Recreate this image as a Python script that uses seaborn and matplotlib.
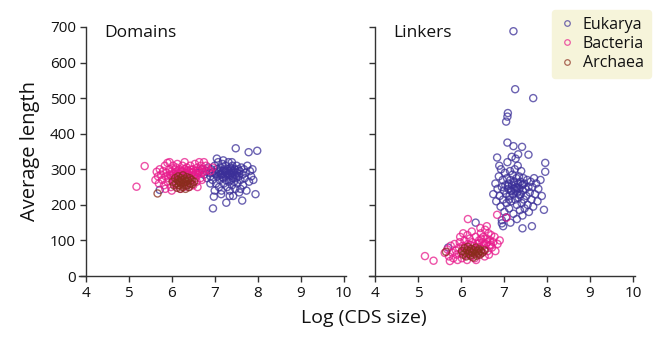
import numpy as np
import pandas as pd
import matplotlib
matplotlib.use("Agg")
import matplotlib.pyplot as plt
from matplotlib.lines import Line2D
import seaborn as sns

# Domains panel
dom_euk_x = [5.72, 6.35, 6.62, 6.70, 6.75, 6.80, 6.82, 6.85, 6.88, 6.90, 6.92, 6.95, 6.96, 6.98, 7.00, 7.02,
             7.03, 7.05, 7.06, 7.08, 7.10, 7.10, 7.12, 7.13, 7.15, 7.16, 7.18, 7.19, 7.20, 7.21, 7.22, 7.24,
             7.25, 7.26, 7.27, 7.28, 7.29, 7.30, 7.31, 7.32, 7.33, 7.34, 7.35, 7.36, 7.37, 7.38, 7.39, 7.40,
             7.41, 7.42, 7.43, 7.44, 7.45, 7.46, 7.47, 7.48, 7.49, 7.50, 7.51, 7.52, 7.53, 7.55, 7.56, 7.57,
             7.58, 7.60, 7.62, 7.64, 7.65, 7.66, 7.68, 7.70, 7.72, 7.74, 7.76, 7.79, 7.80, 7.82, 7.85, 7.88,
             7.95, 7.99, 7.90, 7.05, 7.20, 7.40, 6.90, 7.15, 7.35, 7.60, 7.00,
             7.08, 7.14, 7.23, 7.30, 7.38, 7.45, 7.52, 7.18, 7.27, 7.34, 7.42, 7.11, 7.25, 7.48, 6.95, 7.02]
dom_euk_y = [242, 255, 290, 300, 285, 295, 275, 305, 290, 280, 300, 270, 190, 223, 310, 290,
             260, 300, 280, 320, 295, 250, 270, 305, 285, 240, 315, 295, 275, 260, 300, 285,
             310, 270, 206, 290, 250, 300, 280, 320, 265, 295, 240, 285, 305, 270, 290, 255,
             310, 280, 225, 295, 265, 300, 285, 245, 359, 275, 310, 290, 260, 300, 280, 235,
             295, 270, 305, 212, 285, 255, 300, 275, 290, 240, 310, 348, 265, 295, 280, 300,
             230, 352, 270, 330, 325, 320, 260, 230, 225, 245, 240,
             292, 288, 295, 285, 298, 290, 282, 278, 296, 288, 276, 283, 293, 299, 292, 286]

dom_bac_x = [5.18, 5.37, 5.62, 5.65, 5.68, 5.70, 5.72, 5.75, 5.78, 5.80, 5.82, 5.84, 5.86, 5.88, 5.90, 5.90,
             5.92, 5.94, 5.96, 5.98, 6.00, 6.02, 6.03, 6.05, 6.06, 6.08, 6.10, 6.12, 6.13, 6.15, 6.16, 6.18,
             6.20, 6.22, 6.24, 6.25, 6.27, 6.28, 6.30, 6.32, 6.33, 6.35, 6.37, 6.38, 6.40, 6.42, 6.43, 6.45,
             6.47, 6.48, 6.50, 6.52, 6.54, 6.55, 6.57, 6.58, 6.60, 6.62, 6.64, 6.65, 6.67, 6.68, 6.70, 6.72,
             6.75, 6.78, 6.80, 6.85, 6.90, 6.95, 6.50, 6.20, 6.00, 5.85, 6.40, 6.60, 6.10, 5.95, 6.30, 6.70,
             5.98, 6.04, 6.11, 6.19, 6.26, 6.34, 6.41, 6.49, 6.56, 6.63, 6.44, 6.36]
dom_bac_y = [251, 309, 270, 293, 280, 260, 300, 285, 270, 295, 255, 310, 280, 290, 318, 265,
             275, 300, 285, 250, 295, 270, 310, 280, 260, 300, 285, 270, 315, 290, 255, 300,
             280, 295, 265, 310, 285, 250, 300, 275, 290, 305, 270, 285, 295, 260, 310, 280,
             290, 270, 300, 285, 315, 275, 295, 265, 305, 285, 320, 295, 275, 310, 290, 300,
             320, 295, 310, 300, 295, 305, 255, 245, 240, 245, 250, 250, 305, 320, 320, 270,
             282, 288, 292, 286, 294, 289, 283, 291, 287, 296, 299, 297]

dom_arc_x = [5.67, 6.02, 6.05, 6.08, 6.10, 6.12, 6.14, 6.15, 6.17, 6.18, 6.20, 6.21, 6.22, 6.24, 6.25,
             6.26, 6.28, 6.29, 6.30, 6.32, 6.33, 6.35, 6.36, 6.38, 6.40, 6.42, 6.44, 6.46, 6.48, 6.52]
dom_arc_y = [232, 265, 255, 275, 260, 248, 270, 280, 255, 265, 245, 275, 260, 270, 250,
             283, 262, 255, 272, 245, 265, 278, 255, 268, 250, 275, 260, 270, 258, 265]

# Linkers panel
lnk_euk_x = [7.22, 7.26, 7.68, 7.09, 7.08, 7.05, 7.08, 7.22, 7.42, 7.33, 7.57, 6.84, 6.89, 7.96, 7.96, 7.93,
             7.43, 7.65, 6.95, 6.95, 6.34, 5.70,
             6.75, 6.80, 6.82, 6.85, 6.88, 6.90, 6.92, 6.93, 6.95, 6.97, 6.98, 7.00, 7.01, 7.02, 7.03, 7.05,
             7.06, 7.07, 7.08, 7.10, 7.11, 7.12, 7.13, 7.14, 7.15, 7.16, 7.17, 7.18, 7.19, 7.20, 7.21, 7.22,
             7.23, 7.24, 7.25, 7.26, 7.27, 7.28, 7.29, 7.30, 7.31, 7.32, 7.33, 7.34, 7.35, 7.36, 7.37, 7.38,
             7.39, 7.40, 7.41, 7.42, 7.43, 7.44, 7.45, 7.46, 7.47, 7.48, 7.50, 7.52, 7.54, 7.55, 7.57, 7.58,
             7.60, 7.62, 7.64, 7.66, 7.68, 7.70, 7.72, 7.75, 7.78, 7.80, 7.85, 7.88, 7.05, 7.15, 7.30, 6.98,
             7.09, 7.17, 7.24, 7.31, 7.36, 7.44, 7.12, 7.27]
lnk_euk_y = [688, 525, 500, 458, 448, 434, 375, 365, 363, 342, 341, 333, 310, 318, 293, 186,
             134, 140, 157, 148, 150, 80,
             230, 260, 210, 245, 280, 225, 195, 300, 250, 270, 215, 240, 180, 290, 255, 230,
             205, 275, 320, 245, 260, 190, 225, 295, 270, 240, 210, 335, 255, 285, 230, 175,
             265, 245, 300, 215, 330, 250, 275, 200, 235, 310, 260, 220, 280, 245, 185, 265,
             230, 295, 205, 255, 170, 240, 275, 215, 260, 190, 245, 225, 270, 200, 250, 180,
             235, 265, 215, 250, 195, 275, 230, 260, 210, 245, 270, 225, 165, 150, 160, 140,
             252, 238, 262, 248, 228, 258, 215, 240]

lnk_bac_x = [5.16, 5.36, 5.62, 5.68, 5.72, 5.74, 5.76, 5.80, 5.82, 5.85, 5.88, 5.90, 5.92, 5.95, 5.97, 6.00,
             6.02, 6.04, 6.06, 6.08, 6.10, 6.12, 6.14, 6.16, 6.16, 6.18, 6.20, 6.22, 6.24, 6.26, 6.28, 6.30,
             6.32, 6.34, 6.36, 6.38, 6.40, 6.42, 6.44, 6.46, 6.48, 6.50, 6.52, 6.54, 6.56, 6.58, 6.60, 6.62,
             6.64, 6.66, 6.68, 6.70, 6.72, 6.75, 6.78, 6.84, 6.80, 6.85, 7.06, 6.25, 6.45, 6.60, 6.05, 6.35,
             6.55, 6.65, 5.98, 6.15, 6.90,
             6.09, 6.21, 6.33, 6.41, 6.53, 6.61, 6.69, 6.47]
lnk_bac_y = [56, 43, 65, 75, 55, 42, 85, 65, 50, 90, 72, 60, 45, 80, 95, 65,
             50, 85, 70, 100, 58, 78, 45, 160, 90, 65, 105, 75, 55, 95, 68, 85,
             50, 110, 72, 90, 60, 100, 80, 120, 65, 95, 110, 75, 130, 90, 105, 70,
             120, 85, 100, 115, 80, 95, 110, 172, 70, 90, 164, 125, 135, 140, 120, 45,
             55, 60, 110, 115, 100,
             82, 88, 76, 92, 86, 95, 88, 105]

lnk_arc_x = [5.65, 6.02, 6.05, 6.08, 6.10, 6.12, 6.14, 6.16, 6.18, 6.20, 6.22, 6.24, 6.26, 6.28, 6.30,
             6.32, 6.34, 6.36, 6.38, 6.40, 6.42, 6.44, 6.46, 6.50, 6.55]
lnk_arc_y = [68, 70, 60, 78, 65, 55, 72, 82, 62, 70, 58, 76, 66, 52, 72,
             63, 80, 57, 70, 65, 75, 60, 70, 66, 72]

kingdoms = ["Eukarya", "Bacteria", "Archaea"]
colors = {"Eukarya": "#3b2f98", "Bacteria": "#e8198b", "Archaea": "#8a2c1c"}

panels = {
    "Domains": {"Eukarya": (dom_euk_x, dom_euk_y), "Bacteria": (dom_bac_x, dom_bac_y),
                "Archaea": (dom_arc_x, dom_arc_y)},
    "Linkers": {"Eukarya": (lnk_euk_x, lnk_euk_y), "Bacteria": (lnk_bac_x, lnk_bac_y),
                "Archaea": (lnk_arc_x, lnk_arc_y)},
}

sns.set_style("white")
plt.rcParams["font.family"] = ["Open Sans", "DejaVu Sans"]
plt.rcParams["text.color"] = "#111111"

fig = plt.figure(figsize=(6.56, 3.37), dpi=100)
ax1 = fig.add_axes([0.121, 0.181, 0.406, 0.739])
ax2 = fig.add_axes([0.562, 0.181, 0.406, 0.739])

for ax, name in [(ax1, "Domains"), (ax2, "Linkers")]:
    for k in kingdoms:
        xs, ys = panels[name][k]
        df = pd.DataFrame({"x": xs, "y": ys})
        sns.scatterplot(data=df, x="x", y="y", ax=ax, marker="o", s=26,
                        facecolor="none", edgecolor=colors[k], linewidth=1.0, alpha=0.75)
    ax.set_xlim(3.85, 10.05)
    ax.set_ylim(0, 700)
    ax.set_xticks(range(4, 11))
    ax.set_yticks(range(0, 701, 100))
    for s in ["top", "right"]:
        ax.spines[s].set_visible(False)
    ax.spines["left"].set_position(("data", 4))
    for s in ["left", "bottom"]:
        ax.spines[s].set_color("#333333")
        ax.spines[s].set_linewidth(1.0)
    ax.tick_params(direction="out", length=4, width=1, color="#333333", labelsize=11,
                   labelcolor="#111111", left=True, bottom=True, pad=3)
    ax.set_xlabel("")
    ax.set_ylabel("")
    ax.text(4.42, 682, name, fontsize=12.5, va="center", ha="left")

ax2.tick_params(labelleft=False)
ax1.set_ylabel("Average length", fontsize=14.5, labelpad=7, color="#111111")
fig.text(0.555, 0.03, "Log (CDS size)", fontsize=14, ha="center", va="bottom")

handles = [Line2D([], [], marker="o", linestyle="none", markerfacecolor="none",
                  markeredgecolor=colors[k], markersize=4, markeredgewidth=0.9, alpha=0.7)
           for k in kingdoms]
leg = fig.legend(handles, kingdoms, loc="upper right", bbox_to_anchor=(1.005, 0.995),
                 fontsize=11.5, frameon=True, fancybox=True, facecolor="#f6f4da",
                 edgecolor="#f6f4da", framealpha=1, handletextpad=0.5, borderpad=0.45,
                 labelspacing=0.2, handlelength=1.0)

fig.savefig("out.png", dpi=100)
